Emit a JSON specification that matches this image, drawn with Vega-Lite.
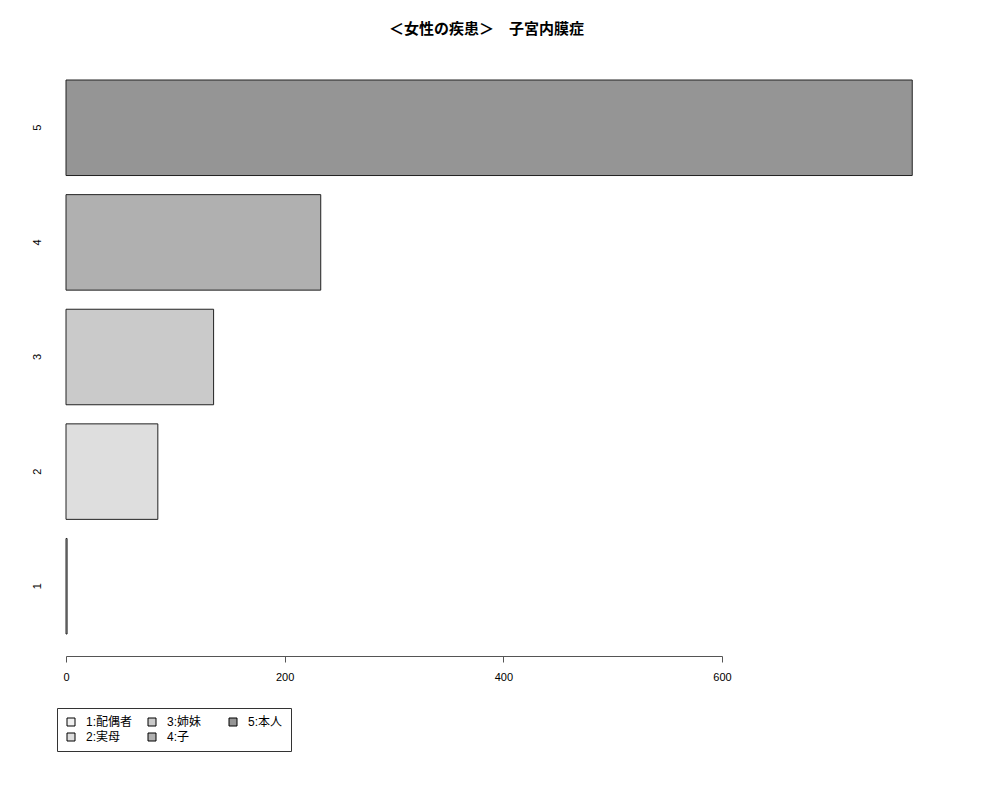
{
  "$schema": "https://vega.github.io/schema/vega-lite/v6.json",
  "autosize": "none",
  "width": 899,
  "height": 598,
  "padding": {"left": 48, "top": 58, "right": 53, "bottom": 144},
  "background": "white",
  "title": {
    "text": "＜女性の疾患＞　子宮内膜症",
    "font": "Liberation Sans, Noto Sans CJK JP",
    "fontSize": 15,
    "fontWeight": "bold",
    "color": "#000",
    "anchor": "middle",
    "baseline": "bottom",
    "offset": 6,
    "dx": -11
  },
  "config": {
    "view": {"stroke": null},
    "font": "Liberation Sans, Noto Sans CJK JP"
  },
  "data": {
    "values": [
      {"cat": "1", "label": "1:配偶者", "count": 1},
      {"cat": "2", "label": "2:実母", "count": 84},
      {"cat": "3", "label": "3:姉妹", "count": 135},
      {"cat": "4", "label": "4:子", "count": 233},
      {"cat": "5", "label": "5:本人", "count": 774}
    ]
  },
  "mark": {"type": "bar", "stroke": "#222", "strokeWidth": 1, "opacity": 1},
  "encoding": {
    "y": {
      "field": "cat",
      "type": "ordinal",
      "sort": "descending",
      "scale": {"paddingInner": 0.1667, "paddingOuter": 0.192},
      "axis": {
        "title": null,
        "domain": false,
        "ticks": false,
        "tickSize": 0,
        "labelAngle": -90,
        "labelAlign": "center",
        "labelBaseline": "bottom",
        "labelPadding": 6,
        "labelFontSize": 11,
        "labelColor": "#000"
      }
    },
    "x": {
      "field": "count",
      "type": "quantitative",
      "stack": null,
      "scale": {"domain": [0, 600], "range": [18, 674], "nice": false, "zero": true},
      "axis": {
        "title": null,
        "values": [0, 200, 400, 600],
        "grid": false,
        "domainColor": "#555",
        "tickColor": "#555",
        "tickSize": 6,
        "labelPadding": 9,
        "labelFontSize": 11,
        "labelColor": "#000",
        "labelFlush": false
      }
    },
    "fill": {
      "field": "label",
      "type": "nominal",
      "scale": {
        "domain": ["1:配偶者", "2:実母", "3:姉妹", "4:子", "5:本人"],
        "range": ["#f0f0f0", "#dedede", "#cacaca", "#b0b0b0", "#959595"]
      },
      "legend": {
        "title": null,
        "orient": "none",
        "legendX": 9,
        "legendY": 650,
        "columns": 3,
        "gridAlign": "all",
        "columnPadding": 13,
        "rowPadding": 3,
        "padding": 8,
        "strokeColor": "#333",
        "fillColor": "white",
        "symbolType": "square",
        "symbolSize": 64,
        "symbolStrokeColor": "#000",
        "symbolStrokeWidth": 1,
        "symbolOpacity": 1,
        "labelFontSize": 12,
        "labelColor": "#000",
        "labelOffset": 9,
        "labelFont": "Liberation Sans, Noto Sans CJK JP"
      }
    }
  }
}
